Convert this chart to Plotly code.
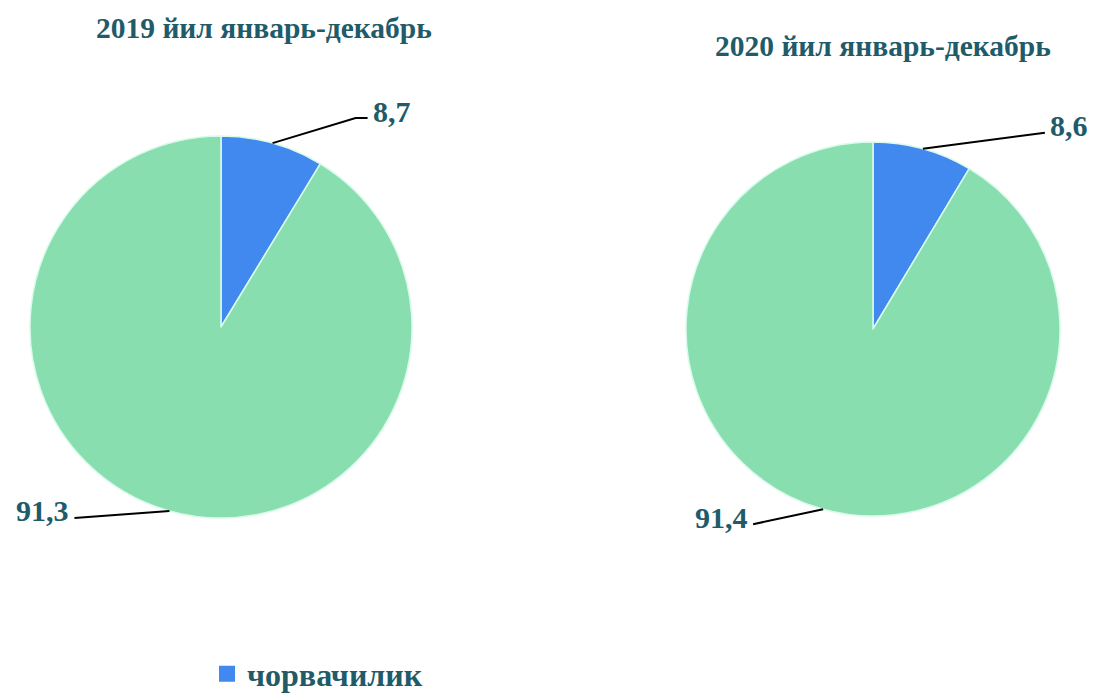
import math
import plotly.graph_objects as go

# ---- data ----
categories = ["чорвачилик", "бошқа"]
values_2019 = [8.7, 91.3]
values_2020 = [8.6, 91.4]
titles = ["2019 йил январь-декабрь", "2020 йил январь-декабрь"]
value_labels_2019 = ["8,7", "91,3"]
value_labels_2020 = ["8,6", "91,4"]

# ---- style / layout ----
OFF = 8                    # page body margin of the html page
W, H = 1095 - OFF, 693 - OFF
BLUE = "#4189EE"
GREEN = "#88DEAF"
TEXT = "#215B6A"
FONT = "Liberation Serif"

pies = [
    dict(vals=values_2019, labs=value_labels_2019, title=titles[0], cx=221, cy=327, r=191,
         title_xy=(264, 28),
         leaders=[((83, -25), 12, "left"), ((-95, 7), 0, "right")]),
    dict(vals=values_2020, labs=value_labels_2020, title=titles[1], cx=873, cy=329, r=187,
         title_xy=(883, 46),
         leaders=[((122, -16), 0, "left"), ((-70, 15), 0, "right")]),
]

def px(x):
    return (x - OFF) / W

def py(y):
    return 1 - (y - OFF) / H

fig = go.Figure()
shapes = []
annotations = []

for p in pies:
    cx, cy, r = p["cx"], p["cy"], p["r"]
    fig.add_trace(go.Pie(
        labels=categories, values=p["vals"], sort=False, direction="clockwise",
        rotation=0, textinfo="none", hoverinfo="label+value",
        marker=dict(colors=[BLUE, GREEN], line=dict(color="#D8FBEA", width=1.5)),
        domain=dict(x=[px(cx - r), px(cx + r)], y=[py(cy + r), py(cy - r)]),
        showlegend=False,
    ))
    annotations.append(dict(
        x=px(p["title_xy"][0]), y=py(p["title_xy"][1]), xref="paper", yref="paper",
        text=p["title"], showarrow=False, xanchor="center", yanchor="middle",
        font=dict(family=FONT, size=29.5, color=TEXT, weight="bold"),
    ))
    total = sum(p["vals"])
    cum = 0.0
    for v, lab, (elbow, tail, side) in zip(p["vals"], p["labs"], p["leaders"]):
        mid = (cum + v / 2) / total * 2 * math.pi
        cum += v
        ex = cx + r * math.sin(mid)
        ey = cy - r * math.cos(mid)
        bx, by = ex + elbow[0], ey + elbow[1]
        tx = bx + (tail if side == "left" else -tail)
        path = f"M {px(ex)},{py(ey)} L {px(bx)},{py(by)} L {px(tx)},{py(by)}"
        shapes.append(dict(type="path", xref="paper", yref="paper", path=path,
                           line=dict(color="black", width=2)))
        annotations.append(dict(
            x=px(tx + (3 if side == "left" else -3)), y=py(by - 7), xref="paper", yref="paper",
            text=lab, showarrow=False,
            xanchor="left" if side == "left" else "right", yanchor="middle",
            font=dict(family=FONT, size=30, color=TEXT, weight="bold"),
        ))

# legend entry (only the first category is listed)
fig.add_trace(go.Scatter(
    x=[None], y=[None], mode="markers", name=categories[0],
    marker=dict(symbol="square", size=18, color=BLUE), showlegend=True,
))

fig.update_layout(
    width=W, height=H,
    margin=dict(l=0, r=0, t=0, b=0, autoexpand=False),
    paper_bgcolor="white", plot_bgcolor="white",
    xaxis=dict(visible=False), yaxis=dict(visible=False),
    shapes=shapes, annotations=annotations,
    showlegend=True,
    legend=dict(x=px(207), y=py(674), xanchor="left", yanchor="middle",
                orientation="h", bgcolor="rgba(0,0,0,0)",
                font=dict(family=FONT, size=32, color=TEXT, weight="bold"),
                itemwidth=30),
)

fig.write_html("out.html")
